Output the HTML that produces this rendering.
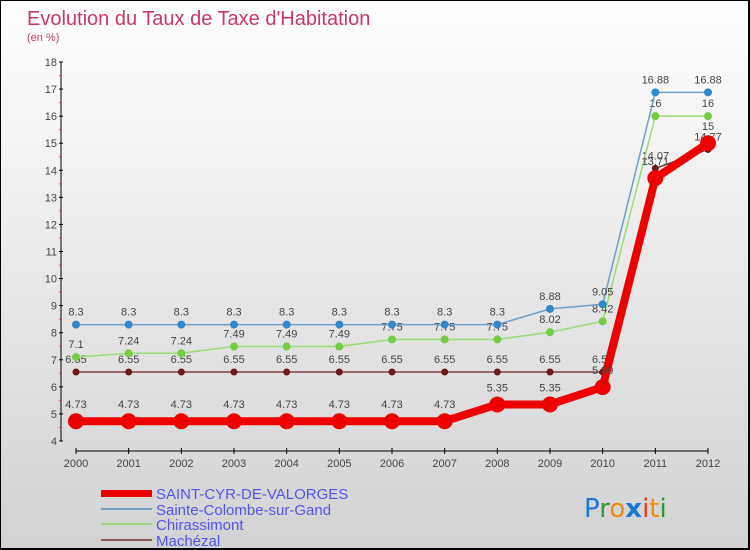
<!DOCTYPE html>
<html><head><meta charset="utf-8"><style>
body{margin:0}
#c{width:750px;height:550px;position:relative;box-sizing:border-box;border:1px solid #000;border-right-width:2px;border-bottom-width:2px;background:linear-gradient(#ffffff,#d2d2d2);font-family:"Liberation Sans",sans-serif;overflow:hidden}
</style></head><body>
<div id="c">
<svg id="s" width="750" height="550" style="position:absolute;left:0;top:0">
<text x="26" y="24" font-size="20" fill="#c8386a">Evolution du Taux de Taxe d'Habitation</text>
<text x="26" y="40" font-size="11" fill="#c8386a">(en %)</text>
<g id="ax"></g><g id="ser"></g>
<g>
<rect x="100" y="489" width="51" height="7" fill="#e00"/>
<text x="155" y="498" font-size="15" fill="#5555ee">SAINT-CYR-DE-VALORGES</text>
<rect x="100" y="507" width="51" height="2" fill="#6fa0c8"/>
<text x="155" y="514" font-size="15" fill="#5555ee">Sainte-Colombe-sur-Gand</text>
<rect x="100" y="522" width="51" height="2" fill="#99d47a"/>
<text x="155" y="529" font-size="15" fill="#5555ee">Chirassimont</text>
<rect x="100" y="538" width="51" height="2" fill="#8a5a5a"/>
<text x="155" y="545" font-size="15" fill="#5555ee">Machézal</text>
</g>
<g font-size="26" font-family="'DejaVu Sans',sans-serif">
<text x="583" y="516"><tspan fill="#1a78d0">P</tspan><tspan fill="#2a9a3a">r</tspan><tspan fill="#f08a10">o</tspan><tspan fill="#1a78d0" font-weight="bold">x</tspan><tspan fill="#e83a10">i</tspan><tspan fill="#f08a10">t</tspan><tspan fill="#2a9a3a">i</tspan></text>
</g>
</svg>
</div>
<script>
const years=[2000,2001,2002,2003,2004,2005,2006,2007,2008,2009,2010,2011,2012];
const yTicks=[4,5,6,7,8,9,10,11,12,13,14,15,16,17,18];
const saintCyr=[4.73,4.73,4.73,4.73,4.73,4.73,4.73,4.73,5.35,5.35,5.99,13.71,15];
const sainteColombe=[8.3,8.3,8.3,8.3,8.3,8.3,8.3,8.3,8.3,8.88,9.05,16.88,16.88];
const chirassimont=[7.1,7.24,7.24,7.49,7.49,7.49,7.75,7.75,7.75,8.02,8.42,16,16];
const machezal=[6.55,6.55,6.55,6.55,6.55,6.55,6.55,6.55,6.55,6.55,6.55,14.07,14.77];
const NS="http://www.w3.org/2000/svg";
const X=i=>75+i*(632/12);
const Y=v=>440-(v-4)*(379/14);
function mk(t,a,p){const e=document.createElementNS(NS,t);for(const k in a)e.setAttribute(k,a[k]);p.appendChild(e);return e;}
const ax=document.getElementById('ax');
let yl=mk('line',{x1:60,y1:Y(18),x2:60,y2:Y(4),stroke:'#000','stroke-width':1},ax);


yTicks.forEach(v=>{
  mk('line',{x1:58,y1:Y(v),x2:62,y2:Y(v),stroke:'#000'},ax);
  if(v<18)mk('line',{x1:58,y1:Y(v+0.5),x2:60,y2:Y(v+0.5),stroke:'#f33'},ax);
  const t=mk('text',{x:56,y:Y(v)+4,'font-size':11,fill:'#444','text-anchor':'end'},ax);t.textContent=v;
  
  
});
let xl=mk('line',{x1:X(0),y1:450,x2:X(12),y2:450,stroke:'#000'},ax);


years.forEach((y,i)=>{
  mk('line',{x1:X(i),y1:447,x2:X(i),y2:453,stroke:'#000'},ax);
  const t=mk('text',{x:X(i),y:466,'font-size':11,fill:'#444','text-anchor':'middle'},ax);t.textContent=y;
  
  
});
const ser=document.getElementById('ser');
function draw(vals,color,w,r,name,dot){
  const g=mk('g',{},ser);
  
  
  const p=mk('polyline',{points:vals.map((v,i)=>X(i)+','+Y(v)).join(' '),fill:'none',stroke:color,'stroke-width':w,'stroke-linejoin':'round'},g);
  
  
  vals.forEach((v,i)=>{
    const c=mk('circle',{cx:X(i),cy:Y(v),r:r,fill:dot},g);
    
    
    const t=mk('text',{x:X(i),y:Y(v)-9-(r>4?4:0),'font-size':11,fill:'#444','text-anchor':'middle'},g);
    t.textContent=v;
    
    
  });
}
draw(machezal,'#7a4040',1.5,3.5,'machezal','#6a1a1a');
draw(chirassimont,'#99dd77',1.5,4,'chirassimont','#77cc44');
draw(sainteColombe,'#6fa0c8',1.5,4,'sainte-colombe','#3388cc');
draw(saintCyr,'#ee0000',8,8,'saint-cyr','#ee0000');
</script>
</body></html>
